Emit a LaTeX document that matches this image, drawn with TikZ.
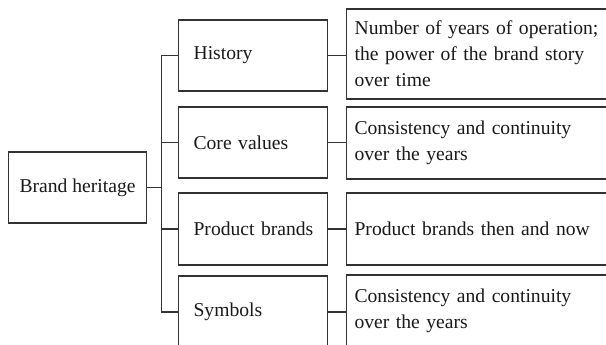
\documentclass[tikz,border=0pt]{standalone}
\usepackage{fontspec}
\setmainfont{Liberation Serif}
\usetikzlibrary{positioning}

\begin{document}
\begin{tikzpicture}[x=1pt, y=-1pt, font=\fontsize{19.6}{26}\selectfont,
          box/.style={draw=black!80, line width=1.2pt, inner ysep=0pt, text=black!90},
          item/.style={box, anchor=west, text width=125pt, inner xsep=12pt,
                       align=left, minimum height=71pt},
          note/.style={box, anchor=west, text width=264pt, inner xsep=8pt,
                       align=left, minimum height=72pt},
          link/.style={draw=black!80, line width=1.2pt}]
        \useasboundingbox (0,0) rectangle (606,345);
        \clip (0,0) rectangle (606,345);
        % root
        \node[box, anchor=west, inner xsep=8pt, minimum width=138pt, minimum height=71pt]
             (root) at (8,187.5) {Brand heritage};
        % aspects of the heritage
        \node[item] (hist) at (178,55.5) {\hspace*{3pt}History};
        \node[item] (core) at (178,142.5) {\hspace*{3pt}Core values};
        \node[item, minimum height=72pt] (prod) at (178,229) {\hspace*{3pt}Product~brands};
        \node[item, minimum height=72pt] (sym) at (178,312) {\hspace*{3pt}Symbols};
        % what each aspect means
        \node[note, minimum height=90pt] (histd) at (346,54)
             {Number of years of operation;\\the power of the brand story\\over time};
        \node[note] (cored) at (346,143) {Consistency and continuity\\over the years};
        \node[note] (prodd) at (346,229) {Product brands then and now};
        \node[note] (symd) at (346,311) {Consistency and continuity\\over the years};
        % tree connectors
        \draw[link] (root.east) -- ++(14,0) coordinate (j);
        \draw[link] (j |- hist.west) -- (j |- sym.west);
        \foreach \n in {hist,core,prod,sym} {
          \draw[link] (j |- \n.west) -- (\n.west);
          \draw[link] (\n.east) -- (\n d.west |- \n.east);
        }
      \end{tikzpicture}
\end{document}
